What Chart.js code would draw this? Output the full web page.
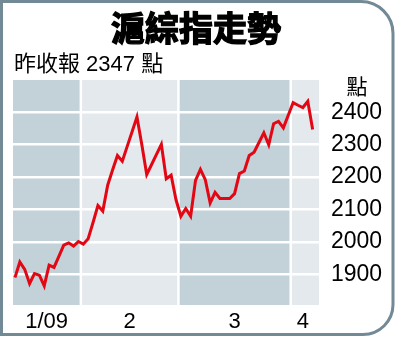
<!DOCTYPE html>
<html>
<head>
<meta charset="utf-8">
<style>
  html, body { margin: 0; padding: 0; background: #fff; }
  #wrap { width: 396px; height: 338px; position: relative; }
</style>
<script src="https://cdn.jsdelivr.net/npm/chart.js@4.4.1/dist/chart.umd.min.js"></script>
</head>
<body>
<div id="wrap"><canvas id="myChart" width="396" height="338"></canvas></div>
<script>
// daily closes by month
let jan = [1890, 1938, 1915, 1871, 1902, 1897, 1864, 1928, 1921, 1955, 1990, 1997, 1987, 2001]
let feb = [1993, 2010, 2060, 2112, 2095, 2175, 2222, 2267, 2249, 2295, 2340, 2386, 2300, 2208, 2239, 2270, 2301, 2195, 2206, 2130]
let mar = [2079, 2103, 2079, 2190, 2224, 2192, 2120, 2153, 2134, 2134, 2134, 2149, 2211, 2219, 2267, 2277, 2307, 2337, 2300, 2365, 2372, 2352, 2391]
let apr = [2430, 2422, 2415, 2434, 2347]
let monthLabels = ['1/09', '2', '3', '4']
let yTicks = [1900, 2000, 2100, 2200, 2300, 2400]
let titleText = '滬綜指走勢'
let subtitleText = '昨收報 2347 點'
let unitText = '點'

let months = [jan, feb, mar, apr]
let bandColors = ['#c3d1d9', '#e4e9ed']
let numFont = '"Liberation Sans", Arial, sans-serif'
let cjkFont = '"Noto Sans CJK TC", "Noto Sans CJK SC", sans-serif'

function buildPoints() {
  let points = []
  months.flat().forEach((v, i) => points.push({x: i, y: v}))
  return points
}

function monthCenters() {
  let centers = []
  let start = 0
  months.forEach(m => {
    centers.push(start + (m.length - 1) / 2)
    start += m.length
  })
  return centers
}

// shaded month bands, drawn under the grid
const bandsPlugin = {
  id: 'bands',
  beforeDraw(chart) {
    let {ctx, chartArea, scales} = chart
    let x = scales.x
    let start = 0
    ctx.save()
    months.forEach((m, k) => {
      let end = start + m.length
      let left = k == 0 ? chartArea.left : x.getPixelForValue(start - 0.5) + 1.25
      let right = k == months.length - 1 ? chartArea.right : x.getPixelForValue(end - 0.5) - 1.25
      ctx.fillStyle = bandColors[k % 2]
      ctx.fillRect(left, chartArea.top, right - left, chartArea.bottom - chartArea.top)
      start = end
    })
    ctx.restore()
  }
}

// titles, unit and rounded frame
const decorPlugin = {
  id: 'decor',
  afterDraw(chart) {
    let ctx = chart.ctx
    ctx.save()
    ctx.fillStyle = '#000'
    ctx.strokeStyle = '#000'
    ctx.textBaseline = 'middle'

    ctx.textAlign = 'center'
    ctx.font = 'bold 34px ' + cjkFont
    ctx.lineWidth = 1.4
    ctx.fillText(titleText, 196, 28)
    ctx.strokeText(titleText, 196, 28)

    ctx.textAlign = 'left'
    ctx.font = '22px "Liberation Sans", ' + cjkFont
    ctx.fillText(subtitleText, 14, 65)

    ctx.textAlign = 'center'
    ctx.font = '21px ' + cjkFont
    ctx.fillText(unitText, 357, 86)

    ctx.strokeStyle = '#728996'
    ctx.lineWidth = 3
    ctx.beginPath()
    ctx.moveTo(1.5, 1.5)
    ctx.lineTo(361, 1.5)
    ctx.arcTo(393, 1.5, 393, 34, 32)
    ctx.lineTo(393, 304)
    ctx.arcTo(393, 334.5, 362, 334.5, 30)
    ctx.lineTo(1.5, 334.5)
    ctx.closePath()
    ctx.stroke()
    ctx.restore()
  }
}

function renderChart() {
  let ctx = document.getElementById('myChart').getContext('2d')
  new Chart(ctx, {
    type: 'line',
    data: {
      datasets: [{
        data: buildPoints(),
        borderColor: '#e30613',
        borderWidth: 3,
        pointRadius: 0,
        fill: false,
        tension: 0
      }]
    },
    options: {
      responsive: false,
      animation: false,
      layout: { padding: { left: 13, top: 80, right: 0, bottom: 0 } },
      plugins: { legend: { display: false }, tooltip: { enabled: false } },
      scales: {
        x: {
          type: 'linear',
          min: -0.4,
          max: 62.3,
          afterBuildTicks: axis => { axis.ticks = monthCenters().map(v => ({value: v})) },
          afterFit: s => { s.height = 33 },
          grid: { display: false, drawTicks: false },
          border: { display: false },
          ticks: {
            autoSkip: false,
            maxRotation: 0,
            padding: 4,
            color: '#000',
            font: { family: numFont, size: 22 },
            callback: (v, i) => monthLabels[i]
          }
        },
        y: {
          position: 'right',
          min: 1805,
          max: 2500,
          afterBuildTicks: axis => { axis.ticks = yTicks.map(v => ({value: v})) },
          afterFit: s => { s.width = 77 },
          grid: { color: '#ffffff', lineWidth: 2.5, drawTicks: false },
          border: { display: false },
          ticks: {
            padding: 12,
            color: '#000',
            font: { family: numFont, size: 23 },
            callback: v => String(v)
          }
        }
      }
    },
    plugins: [bandsPlugin, decorPlugin]
  })
}

document.addEventListener('DOMContentLoaded', () => {
  renderChart()
})
</script>
</body>
</html>
